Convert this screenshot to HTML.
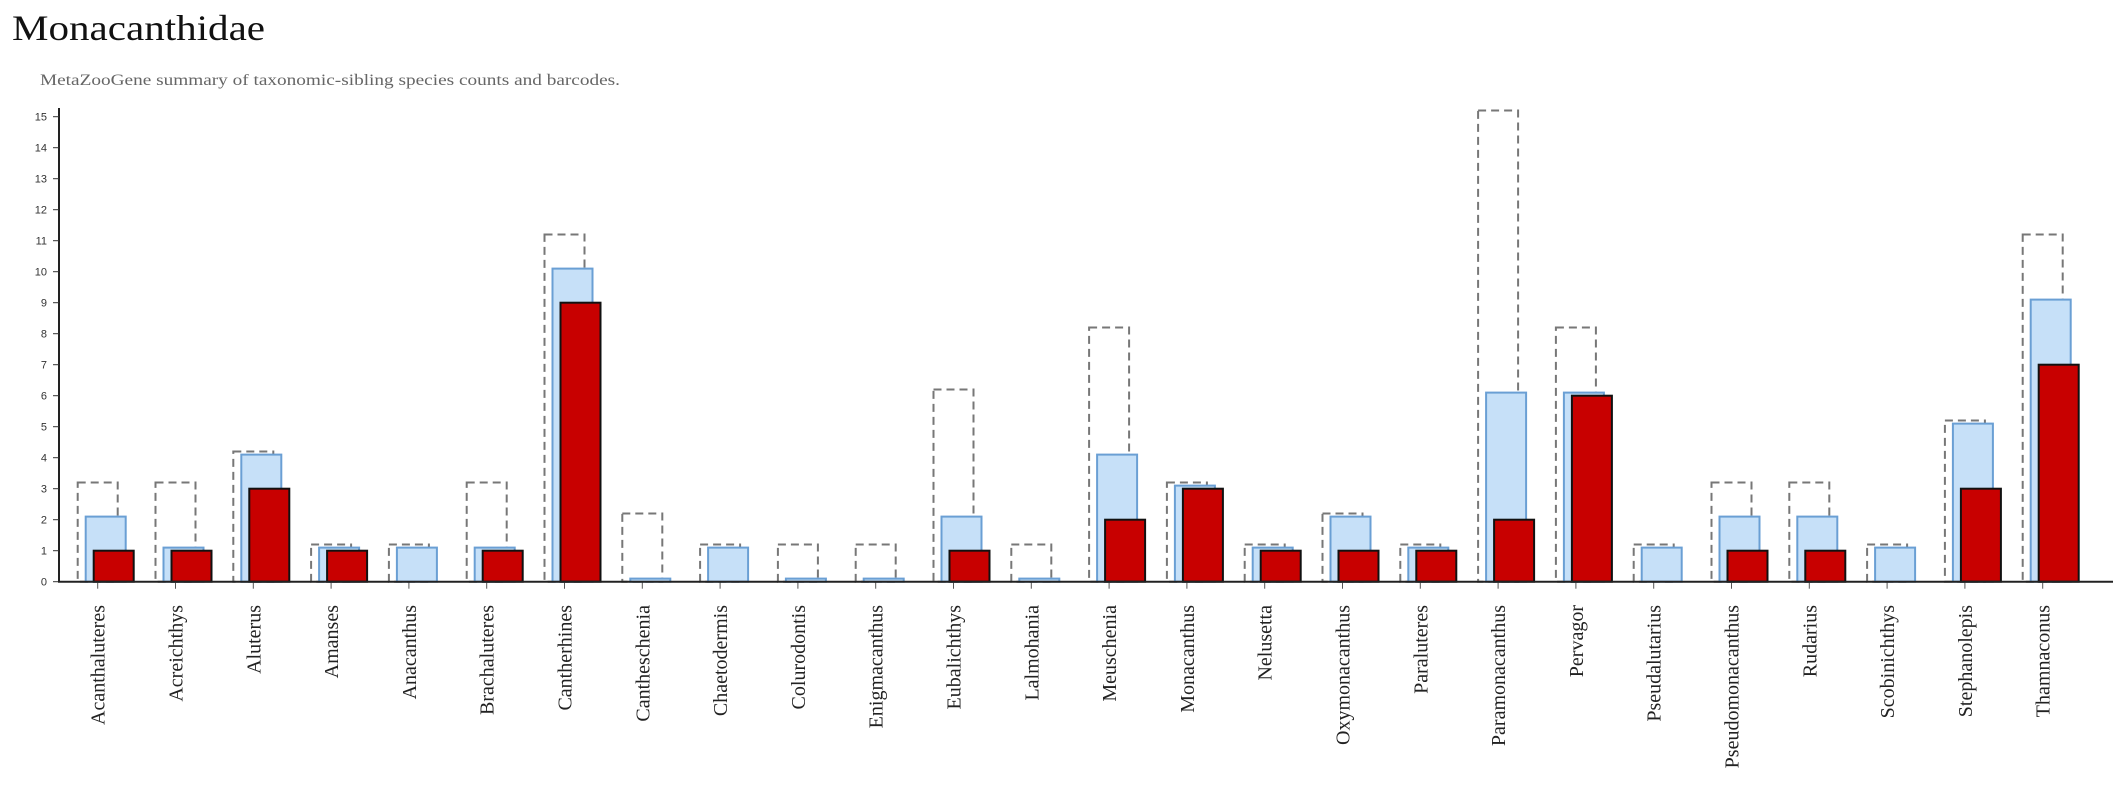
<!DOCTYPE html>
<html><head><meta charset="utf-8"><style>
html,body{margin:0;padding:0;background:#fff;width:2126px;height:800px;overflow:hidden}
</style></head><body>
<svg id="chart" width="2126" height="800" xmlns="http://www.w3.org/2000/svg">
<text x="12" y="40" font-family="Liberation Serif, serif" font-size="36" fill="#111" textLength="253" lengthAdjust="spacingAndGlyphs">Monacanthidae</text>
<text x="40" y="85" font-family="Liberation Serif, serif" font-size="16" fill="#666" textLength="580" lengthAdjust="spacingAndGlyphs">MetaZooGene summary of taxonomic-sibling species counts and barcodes.</text>
<g id="plot"></g>
</svg>
<script>
const categories = ["Acanthaluteres","Acreichthys","Aluterus","Amanses","Anacanthus","Brachaluteres","Cantherhines","Cantheschenia","Chaetodermis","Colurodontis","Enigmacanthus","Eubalichthys","Lalmohania","Meuschenia","Monacanthus","Nelusetta","Oxymonacanthus","Paraluteres","Paramonacanthus","Pervagor","Pseudalutarius","Pseudomonacanthus","Rudarius","Scobinichthys","Stephanolepis","Thamnaconus"];
const totalSpecies = [3,3,4,1,1,3,11,2,1,1,1,6,1,8,3,1,2,1,15,8,1,3,3,1,5,11];
const barcodedSpecies = [2,1,4,1,1,1,10,0,1,0,0,2,0,4,3,1,2,1,6,6,1,2,2,1,5,9];
const redValues = [1,1,3,1,0,1,9,0,0,0,0,1,0,2,3,1,1,1,2,6,0,1,1,0,3,7];
const yTicks = [0,1,2,3,4,5,6,7,8,9,10,11,12,13,14,15];

const NS = "http://www.w3.org/2000/svg";
const g = document.getElementById("plot");
const x0 = 97.7, step = 77.8, baseY = 581.7, unit = 31;
const xc = i => x0 + i * step;
const y = v => baseY - v * unit;
function mk(tag, attrs) {
  const e = document.createElementNS(NS, tag);
  for (const k in attrs) e.setAttribute(k, attrs[k]);
  g.appendChild(e);
  return e;
}
// y axis
let ax = mk("line", {x1:59, y1:108, x2:59, y2:baseY, stroke:"#222", "stroke-width":2});


yTicks.forEach(t => {
  const tk = mk("line", {x1:53, y1:y(t), x2:59, y2:y(t), stroke:"#333", "stroke-width":1});
  
  
  const tl = mk("text", {x:47, y:y(t)+4, "text-anchor":"end", "font-family":"Liberation Sans, sans-serif", "font-size":11, fill:"#333"});
  tl.textContent = t;
  
  
});
categories.forEach((c, i) => {
  const cx = xc(i);
  const d = mk("rect", {x:cx-20, y:y(totalSpecies[i]+0.2), width:40, height:(totalSpecies[i]+0.2)*unit, fill:"none", stroke:"#777", "stroke-width":2, "stroke-dasharray":"8,5"});
  
  
  const b = mk("rect", {x:cx-12, y:y(barcodedSpecies[i]+0.1), width:40, height:(barcodedSpecies[i]+0.1)*unit, fill:"#c6e0f8", stroke:"#6a9fd4", "stroke-width":2});
  
  
  if (redValues[i] > 0) {
    const r = mk("rect", {x:cx-4, y:y(redValues[i]), width:40, height:redValues[i]*unit, fill:"#c80000", stroke:"#111", "stroke-width":2});
    
    
  }
  const tk = mk("line", {x1:cx, y1:baseY, x2:cx, y2:baseY+7, stroke:"#555", "stroke-width":1});
  
  
  const lb = mk("text", {x:0, y:0, transform:`translate(${cx+7},605) rotate(-90)`, "text-anchor":"end", "font-family":"Liberation Serif, serif", "font-size":20, fill:"#222"});
  lb.textContent = c;
  
  
});
let xa = mk("line", {x1:58, y1:baseY, x2:2113, y2:baseY, stroke:"#222", "stroke-width":2});


</script>
</body></html>
